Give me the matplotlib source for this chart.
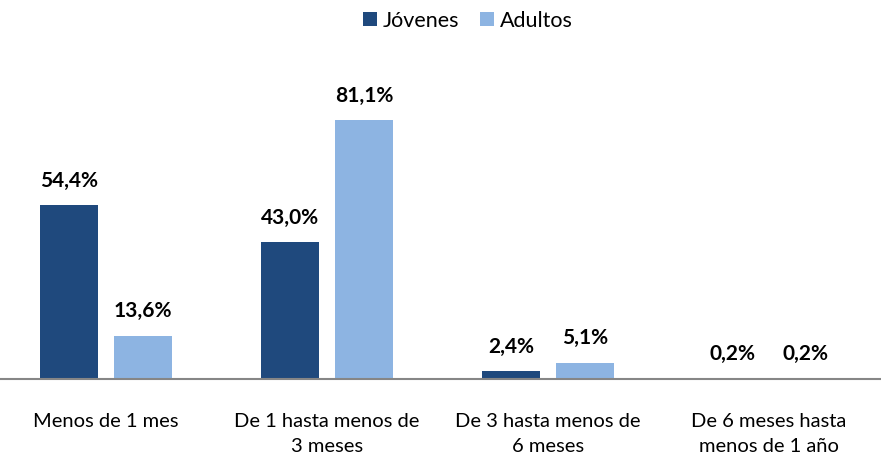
import matplotlib
matplotlib.use("Agg")
import matplotlib.pyplot as plt
import numpy as np

categories = ["Menos de 1 mes", "De 1 hasta menos de\n3 meses",
              "De 3 hasta menos de\n6 meses", "De 6 meses hasta\nmenos de 1 año"]
jovenes = [54.4, 43.0, 2.4, 0.2]
adultos = [13.6, 81.1, 5.1, 0.2]
series_names = ["Jóvenes", "Adultos"]
colors = ["#1F497D", "#8DB4E2"]

plt.rcParams['font.family'] = ['Lato', 'DejaVu Sans']

fig = plt.figure(figsize=(8.81, 4.57), dpi=100)
ax = fig.add_axes([0, 0.1707, 1, 0.64])
x = np.arange(len(categories))
w = 0.262
off = 0.167
b1 = ax.bar(x - off, jovenes, w, color=colors[0], label=series_names[0])
b2 = ax.bar(x + off, adultos, w, color=colors[1], label=series_names[1])
ax.set_xlim(-0.4796, 3.507)
ax.set_ylim(0, 91.7)
for bars, vals in ((b1, jovenes), (b2, adultos)):
    for r, v in zip(bars, vals):
        ax.annotate(f"{v:.1f}%".replace(".", ","), (r.get_x() + r.get_width() / 2, v),
                    xytext=(0, 17.5), textcoords="offset points", ha="center", va="center",
                    fontsize=15, fontweight="bold", color="black")
for s in ["top", "right", "left"]:
    ax.spines[s].set_visible(False)
ax.spines["bottom"].set_color("#868686")
ax.spines["bottom"].set_linewidth(1.5)
ax.set_yticks([])
ax.set_xticks(x)
ax.set_xticklabels(categories, fontsize=14.5, linespacing=1.58)
ax.tick_params(axis="x", length=0, pad=24.5)
fig.legend(handles=[b1, b2], labels=series_names, loc="center", bbox_to_anchor=(0.531, 0.955),
           ncol=2, frameon=False, fontsize=15.5, handlelength=0.65, handleheight=0.65,
           handletextpad=0.25, columnspacing=1.0)
fig.savefig("out.png", dpi=100)
